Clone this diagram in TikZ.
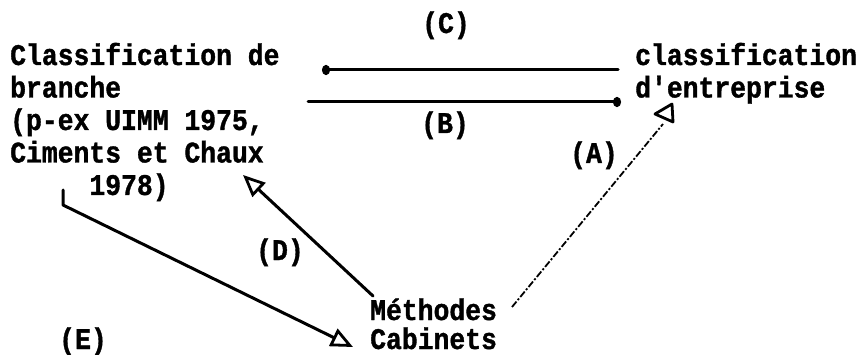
\documentclass[tikz,border=0pt]{standalone}
\usepackage{fontspec}
\newfontfamily\mono[FakeStretch=0.88, BoldFeatures={FakeBold=1.2}]{Liberation Mono}
\usetikzlibrary{arrows.meta}
\begin{document}
\begin{tikzpicture}[x=1pt,y=-1pt,
  txt/.style={inner sep=0pt, anchor=base west, font=\mono\bfseries\fontsize{30}{32.5}\selectfont, align=left},
  lbl/.style={inner sep=0pt, anchor=base, font=\mono\bfseries\fontsize{30}{32.5}\selectfont},
  conn/.style={line width=3pt, line cap=round, line join=round},
  opentip/.style={-{Triangle[open, length=22pt, width=19pt, line width=2.8pt]}},
  dottip/.style={-{Circle[length=8pt, width=10pt]}}
]
\useasboundingbox (0,0) rectangle (866,355);
% text nodes (base anchor = baseline of last line)
\node[txt] (branche) at (10,195) {Classification de\\branche\\(p-ex UIMM 1975,\\Ciments et Chaux\\\hspace*{5\fontcharwd\font`M}1978)};
\node[txt] (entreprise) at (635,97.5) {classification\\d'entreprise};
\node[txt, font=\mono\bfseries\fontsize{30}{29}\selectfont] (methodes) at (370,349) {Méthodes\\Cabinets};
\node[lbl] (C) at (446,33) {(C)};
\node[lbl] (B) at (445,133) {(B)};
\node[lbl] (A) at (594,163) {(A)};
\node[lbl] (D) at (280,260) {(D)};
\node[lbl] (E) at (83,349) {(E)};
% connector end points
\coordinate (c1) at (618,70);
\coordinate (c2) at (322,70);
\coordinate (b1) at (308,102);
\coordinate (b2) at (621,102);
\coordinate (a1) at (512,307);
\coordinate (a2) at (663,124);
\coordinate (d1) at (373,296);
\coordinate (d2) at (243,175);
\coordinate (e0) at (63,190);
\coordinate (e1) at (63,205);
\coordinate (e2) at (353,347);
% connectors
\draw[conn, dottip] (c1) -- (c2);
\draw[conn, dottip] (b1) -- (b2);
\draw[line width=1.8pt, dash pattern=on 7pt off 2pt on 2pt off 2pt] (a1) -- (a2);
\draw[line width=2.8pt, line join=round] (655,114) -- (672,104) -- (673,122) -- cycle;
\draw[conn, opentip] (d1) -- (d2);
\draw[conn, opentip] (e0) -- (e1) -- (e2);
\end{tikzpicture}
\end{document}
